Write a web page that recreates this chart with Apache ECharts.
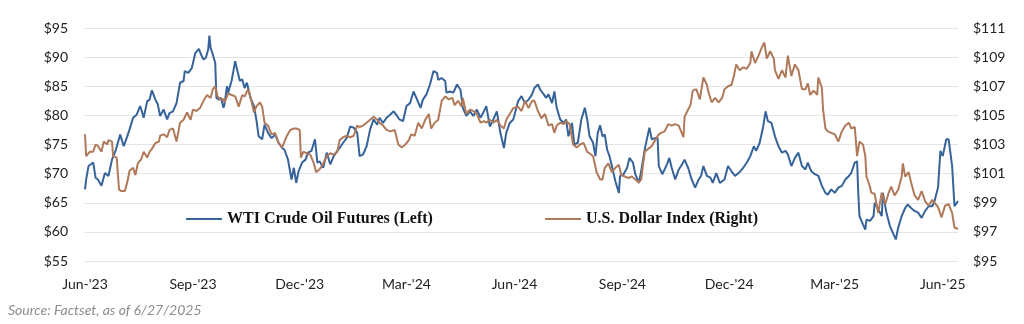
<!DOCTYPE html>
<html>
<head>
<meta charset="utf-8">
<script src="https://cdn.jsdelivr.net/npm/echarts@6/dist/echarts.min.js"></script>
<style>
html,body{margin:0;padding:0;background:#fff;}
#chart{width:1024px;height:324px;}
</style>
</head>
<body>
<div id="chart"></div>
<script>
// x values are days since 1 Jun 2023
const xTickDays = [0, 92, 183, 274, 366, 458, 549, 639, 731];
const xTickLabels = ["Jun-'23", "Sep-'23", "Dec-'23", "Mar-'24", "Jun-'24", "Sep-'24", "Dec-'24", "Mar-'25", "Jun-'25"];
const seriesNames = ["WTI Crude Oil Futures (Left)", "U.S. Dollar Index (Right)"];

const wtiData = [[0,67.3],[1,69],[3,71.3],[7,71.9],[9,69.3],[11,69],[14,67.9],[17,70.1],[20,69.6],[23,72.4],[26,73.9],[28,75.3],[30,76.7],[33,74.7],[36,76.4],[38,77.6],[41,79.6],[44,80.1],[47,81.6],[48,81],[50,79.6],[53,82.4],[55,82.7],[57,84.3],[60,82.7],[62,81.9],[64,79.9],[67,81],[70,79.3],[72,80.4],[75,80.7],[78,82.1],[81,85.6],[84,85.9],[85,87.6],[88,87.3],[91,88.1],[94,90.7],[97,91.4],[99,90.4],[101,89.6],[103,89.9],[105,91.3],[106,93.7],[107,91.6],[109,90.4],[111,89],[112,83],[114,82.7],[116,83],[118,81.3],[119,82],[121,85],[122,83.9],[125,86],[128,89.3],[129,88.4],[132,85.9],[134,86.2],[136,84.7],[138,85.6],[141,83],[144,81.6],[146,79.3],[148,76.4],[151,75.9],[153,78.4],[156,77],[159,76.1],[162,76.7],[165,75.3],[168,74.4],[170,74.1],[173,72.4],[176,69],[178,71],[180,68.4],[182,70.4],[185,71.9],[188,72.4],[190,73.6],[193,73.9],[196,75.9],[198,71.9],[200,72.1],[203,71],[206,73.6],[209,71.6],[212,73],[215,73.9],[217,74.4],[220,75.3],[223,76.1],[226,78.1],[229,77.9],[232,77],[234,73],[237,73.3],[240,74.7],[243,77.6],[246,79.3],[249,78.4],[251,79.6],[254,78.7],[257,79.6],[260,80.1],[263,80.7],[266,79.9],[268,79.3],[271,79],[274,81.6],[277,82.1],[280,84.1],[283,82.7],[286,81.3],[288,82.7],[291,83.6],[294,85.3],[297,87.6],[300,87.3],[301,86.1],[304,86.4],[307,85.9],[308,83.9],[311,84.1],[314,83.9],[317,85.3],[320,84.4],[322,81.3],[325,79.9],[328,80.7],[331,79.9],[334,81],[337,79.6],[340,80.7],[342,81.6],[345,78.1],[348,79.3],[351,80.7],[354,77],[357,74.4],[359,77],[362,78.7],[365,79.3],[369,82.4],[372,83.3],[375,82.1],[378,82.7],[381,83.6],[383,84.7],[386,85.3],[388,84.4],[391,83.6],[393,83],[395,83.6],[398,82.1],[400,84.1],[402,81.3],[405,79.3],[408,78.7],[410,79.3],[412,76.4],[415,78.7],[417,75],[420,75.3],[423,79.3],[426,81.3],[428,79.3],[430,76.4],[433,75.3],[435,73],[437,77],[439,78.3],[441,76.4],[443,76.7],[445,74.1],[447,73],[449,71.3],[452,68.7],[455,66.7],[456,69.6],[459,69.9],[462,71],[464,72.7],[467,71.9],[469,69.9],[472,68.4],[474,70.4],[477,74.1],[480,77],[481,77.9],[483,75.9],[486,76.1],[488,76.1],[489,71.3],[492,69.9],[496,71.6],[498,72.7],[500,71],[503,69],[506,70.7],[508,71.3],[511,72.4],[514,71],[517,69],[520,67.6],[523,69],[525,69.6],[527,71.3],[530,69.6],[533,69.3],[535,68.4],[538,70.1],[541,68.4],[545,69],[548,71.3],[551,70.4],[554,69.6],[557,70.1],[561,71],[564,71.9],[567,73],[570,74.7],[572,73.9],[575,75.3],[578,78.1],[580,80.7],[582,79],[585,78.7],[588,76.4],[591,74.7],[594,73.6],[597,73.9],[599,73.3],[602,71.3],[605,72.7],[608,73.6],[611,71.3],[614,70.7],[616,71.9],[619,70.4],[622,69.9],[625,69.6],[628,67.9],[631,66.7],[633,66.4],[636,67.3],[639,66.7],[642,67.6],[645,67.9],[648,69],[651,69.6],[653,70.1],[656,71.9],[658,72.1],[659,66.7],[660,62.7],[663,61.3],[665,60.4],[666,62.1],[669,61.9],[672,62.7],[673,65],[676,63.9],[679,62.7],[680,66.7],[683,63.3],[686,61],[689,59.6],[691,58.7],[693,60.7],[696,62.7],[699,64.1],[701,64.7],[704,64.1],[707,63.6],[710,63.3],[713,62.4],[716,63.6],[719,64.4],[722,64.4],[724,65.3],[727,67.6],[729,73.9],[731,73],[734,75.9],[736,75.9],[739,71.3],[741,64.4],[743,65],[744,65.3]];

const usdData = [[0,103.7],[1,102.2],[4,102.5],[7,102.5],[9,103],[11,102.9],[14,102.5],[16,103.2],[19,103],[20,103.3],[23,103.2],[24,102.2],[27,102.1],[29,99.9],[31,99.8],[34,99.8],[36,100.4],[38,101.2],[41,101.4],[43,100.9],[45,101.7],[48,102],[50,102.5],[53,102.1],[55,102.5],[57,102.7],[60,103.1],[63,103.2],[64,103.6],[67,103.7],[70,103.5],[72,104],[75,104.1],[78,103.2],[81,104.5],[84,104.7],[87,105.2],[90,104.7],[92,105.4],[95,105.3],[98,105.5],[101,106],[104,106.4],[107,106.2],[109,106.8],[111,107],[113,106.3],[115,106.1],[118,106.1],[119,105.9],[122,106.5],[125,106.4],[128,106.3],[131,105.6],[134,106.4],[136,106.3],[139,106.8],[141,106.3],[144,105.2],[146,105.6],[149,105.9],[151,105.6],[153,104.5],[156,104.3],[159,103.7],[162,103.8],[165,103.1],[168,102.8],[170,103.2],[172,103.6],[175,104],[178,104.1],[180,104.1],[183,104],[184,102.1],[186,102.5],[189,102.4],[192,102.3],[195,101.7],[197,101.1],[200,101.3],[203,101.7],[206,102.2],[209,102.4],[212,102.3],[215,102.5],[217,103.3],[220,103.5],[223,103.6],[226,103.5],[229,103.6],[232,104.3],[234,104.2],[237,104.3],[240,104.5],[243,104.7],[246,104.9],[249,104.7],[251,104.5],[254,104.3],[257,104],[260,103.9],[264,104],[267,103],[270,102.8],[273,103],[276,103.3],[278,103.7],[281,103.6],[284,104.5],[287,104.1],[290,104.7],[293,105.1],[295,104.1],[298,104.5],[301,104.7],[304,106],[307,106.3],[310,106.1],[313,106.2],[315,105.7],[318,106],[321,105.6],[322,106.2],[325,105.1],[328,105.4],[331,105.3],[334,105.1],[337,104.5],[340,104.6],[342,104.5],[345,104.7],[348,104.5],[351,104.7],[354,104.3],[357,104.1],[359,104.7],[362,105.1],[365,105.5],[369,105.6],[372,105.3],[375,106],[378,105.5],[381,106],[383,106],[386,105.3],[389,104.8],[392,105.1],[395,104.3],[398,104.4],[400,103.8],[402,104.3],[405,104.5],[408,104.4],[410,104.6],[413,104.4],[416,103],[419,102.8],[422,103],[425,103.1],[428,102.5],[430,102.4],[433,102.2],[436,101.1],[439,100.6],[441,100.6],[443,101.4],[446,101.7],[449,101.1],[452,101.4],[455,101.6],[457,100.9],[460,100.8],[463,100.7],[466,100.8],[469,100.6],[472,100.4],[474,100.6],[477,102.5],[480,102.7],[483,102.9],[486,103.3],[489,103.7],[491,103.8],[494,103.9],[497,104.4],[500,104.3],[503,104.4],[506,104.3],[508,103.9],[510,103.5],[511,104.9],[514,105.4],[516,105.7],[518,106.7],[521,106.8],[524,106.1],[527,107.6],[530,107.1],[531,106.7],[534,105.9],[537,106.2],[540,105.9],[543,106.2],[545,106.8],[548,107],[551,107.1],[553,107.7],[555,108.5],[558,108.1],[561,108.3],[564,108.2],[567,108.6],[568,109.4],[571,108.6],[574,109.1],[577,109.7],[579,110],[581,108.9],[584,109.4],[587,108.9],[588,108.1],[591,107.5],[594,108.1],[597,107.6],[599,109.1],[602,107.7],[605,108.5],[608,108.1],[611,106.8],[614,106.8],[616,107.2],[618,106.4],[621,106.7],[624,106.4],[625,107.6],[628,106.9],[629,105.4],[631,104.1],[633,103.9],[636,103.8],[639,103.7],[642,103.2],[645,103.9],[648,104.3],[651,104.5],[653,104.1],[656,104.2],[658,102.2],[660,103.2],[663,103],[665,102.2],[666,100.8],[669,100.1],[670,99.7],[673,99.6],[676,98.3],[679,99.7],[682,98.9],[685,99.7],[687,100.1],[690,99.5],[693,99.9],[696,100.8],[697,101.7],[699,100.8],[702,101.1],[704,100.4],[707,99.5],[710,99.2],[713,99.8],[716,99.1],[719,98.8],[722,99.2],[724,99],[727,98.7],[730,98],[733,98.8],[736,98.9],[739,98.3],[741,97.3],[744,97.2]];

const leftAxis = {min: 55, max: 95, step: 5};
const rightAxis = {min: 95, max: 111, step: 2};
const sourceNote = "Source: Factset, as of 6/27/2025";

const blue = '#36639a';
const brown = '#b07a5a';
const labelFont = 'Lato, "Open Sans", sans-serif';
const legendText = {fontFamily: '"Liberation Serif", "DejaVu Serif", serif', fontWeight: 'bold', fontSize: 16, color: '#111'};

const chart = echarts.init(document.getElementById('chart'), null, {renderer: 'canvas'});
chart.setOption({
  animation: false,
  backgroundColor: '#ffffff',
  grid: {left: 85, right: 66, top: 28, bottom: 63, containLabel: false},
  legend: [
    {data: [seriesNames[0]], left: 186, top: 211, padding: 0, icon: 'rect', itemWidth: 36, itemHeight: 2, textStyle: legendText},
    {data: [seriesNames[1]], left: 545, top: 211, padding: 0, icon: 'rect', itemWidth: 36, itemHeight: 2, textStyle: legendText}
  ],
  xAxis: {
    type: 'value', min: 0, max: 744,
    axisLine: {show: false}, axisTick: {show: false}, splitLine: {show: false},
    axisLabel: {
      customValues: xTickDays,
      formatter: function (v) { const i = xTickDays.indexOf(v); return i >= 0 ? xTickLabels[i] : ''; },
      fontFamily: labelFont, fontSize: 14, color: '#222', margin: 16
    }
  },
  yAxis: [
    {type: 'value', min: leftAxis.min, max: leftAxis.max, interval: leftAxis.step, position: 'left',
     axisLine: {show: false}, axisTick: {show: false},
     splitLine: {show: true, lineStyle: {color: '#e4e4e4', width: 1}},
     axisLabel: {formatter: v => '$' + v, fontFamily: labelFont, fontSize: 14, color: '#222', margin: 17}},
    {type: 'value', min: rightAxis.min, max: rightAxis.max, interval: rightAxis.step, position: 'right',
     axisLine: {show: false}, axisTick: {show: false}, splitLine: {show: false},
     axisLabel: {formatter: v => '$' + v, fontFamily: labelFont, fontSize: 14, color: '#222', margin: 15}}
  ],
  series: [
    {name: seriesNames[0], type: 'line', yAxisIndex: 0, data: wtiData, showSymbol: false,
     lineStyle: {color: blue, width: 2}, itemStyle: {color: blue}, z: 2},
    {name: seriesNames[1], type: 'line', yAxisIndex: 1, data: usdData, showSymbol: false,
     lineStyle: {color: brown, width: 2}, itemStyle: {color: brown}, z: 3}
  ],
  graphic: [
    {type: 'text', left: 8, top: 303,
     style: {text: sourceNote, fill: '#8c8c8c', font: 'italic 14px Lato, "Open Sans", sans-serif'}}
  ]
});
</script>
</body>
</html>
